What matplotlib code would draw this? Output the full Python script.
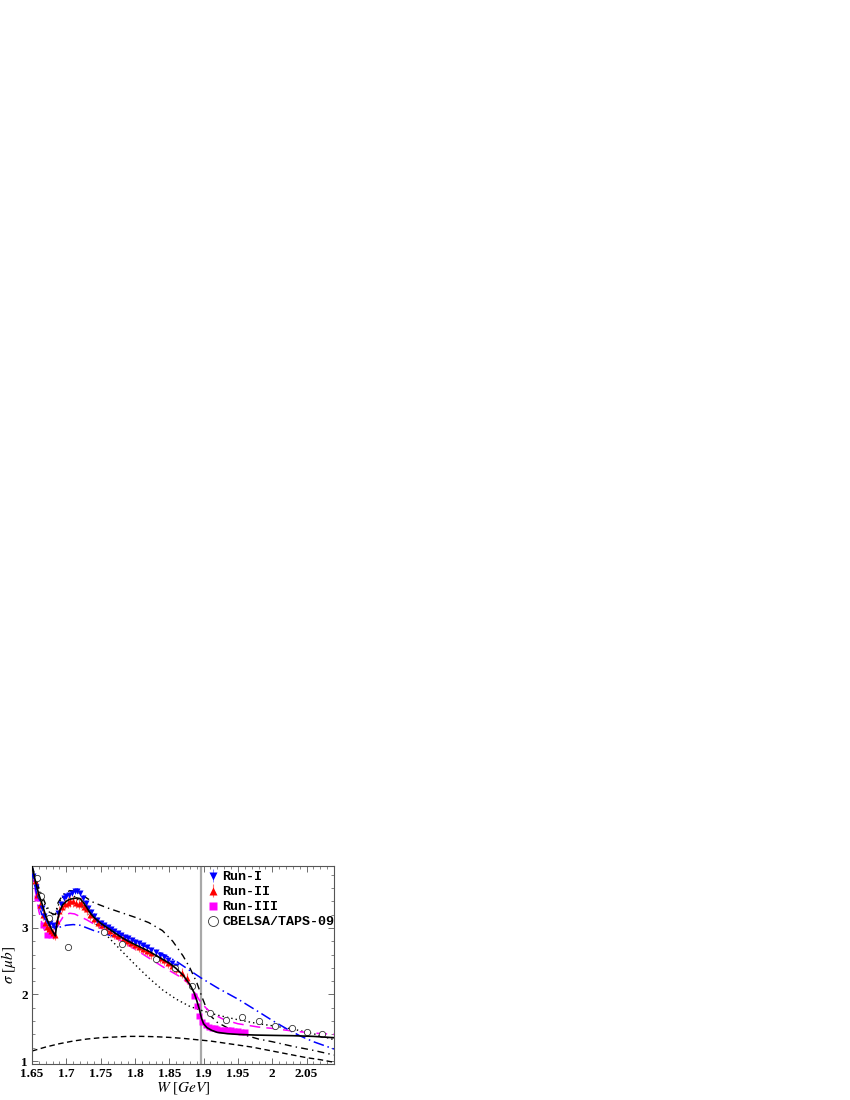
import matplotlib
matplotlib.use("Agg")
import matplotlib.pyplot as plt
from matplotlib.ticker import MultipleLocator

# theory curves (W in GeV, sigma in mub)
solid_w = [1.650, 1.655, 1.660, 1.665, 1.670, 1.675, 1.680, 1.684, 1.686, 1.690, 1.695, 1.700, 1.705, 1.710,
           1.715, 1.720, 1.725, 1.730, 1.735, 1.740, 1.750, 1.760, 1.770, 1.780, 1.790, 1.800, 1.810, 1.820,
           1.830, 1.840, 1.850, 1.860, 1.870, 1.880, 1.886, 1.890, 1.894, 1.897, 1.900, 1.905, 1.912, 1.920,
           1.935, 1.950, 1.975, 2.000, 2.030, 2.060, 2.090]
solid_s = [3.93, 3.70, 3.50, 3.35, 3.18, 3.05, 2.95, 2.88, 3.05, 3.25, 3.35, 3.40, 3.43, 3.44,
           3.45, 3.44, 3.38, 3.30, 3.22, 3.16, 3.07, 3.00, 2.93, 2.86, 2.80, 2.75, 2.70, 2.65,
           2.59, 2.53, 2.47, 2.39, 2.29, 2.15, 2.03, 1.91, 1.77, 1.64, 1.56, 1.50, 1.46, 1.43,
           1.41, 1.40, 1.39, 1.385, 1.38, 1.37, 1.35]

blue_w = [1.650, 1.655, 1.660, 1.665, 1.670, 1.675, 1.680, 1.685, 1.690, 1.700, 1.710, 1.720, 1.730, 1.740,
          1.750, 1.760, 1.780, 1.800, 1.820, 1.840, 1.860, 1.880, 1.896, 1.920, 1.950, 1.980, 2.000, 2.020,
          2.040, 2.060, 2.090]
blue_s = [3.93, 3.60, 3.35, 3.18, 3.08, 3.03, 3.01, 3.00, 3.01, 3.04, 3.05, 3.04, 3.00, 2.96,
          2.93, 2.90, 2.84, 2.78, 2.70, 2.61, 2.50, 2.36, 2.25, 2.10, 1.93, 1.74, 1.61, 1.49,
          1.38, 1.29, 1.18]

mag_w = [1.650, 1.655, 1.660, 1.665, 1.670, 1.674, 1.678, 1.682, 1.686, 1.690, 1.695, 1.700, 1.705, 1.712,
         1.720, 1.730, 1.740, 1.750, 1.760, 1.780, 1.800, 1.820, 1.840, 1.860, 1.870, 1.880, 1.890, 1.896,
         1.905, 1.915, 1.930, 1.950, 1.980, 2.000, 2.030, 2.060, 2.090]
mag_s = [3.85, 3.55, 3.25, 3.05, 2.92, 2.86, 2.86, 2.90, 2.98, 3.08, 3.16, 3.20, 3.22, 3.21,
         3.17, 3.12, 3.06, 3.00, 2.93, 2.80, 2.68, 2.55, 2.42, 2.30, 2.24, 2.14, 1.98, 1.88,
         1.78, 1.70, 1.62, 1.56, 1.51, 1.49, 1.45, 1.42, 1.40]

dot_w = [1.650, 1.655, 1.660, 1.665, 1.670, 1.675, 1.680, 1.684, 1.688, 1.693, 1.700, 1.708, 1.715, 1.725,
         1.735, 1.750, 1.765, 1.780, 1.800, 1.820, 1.840, 1.860, 1.880, 1.900, 1.920, 1.950, 1.980, 2.000,
         2.030, 2.060, 2.090]
dot_s = [3.93, 3.75, 3.58, 3.42, 3.32, 3.24, 3.20, 3.19, 3.33, 3.45, 3.50, 3.50, 3.45, 3.30,
         3.15, 2.98, 2.82, 2.66, 2.45, 2.25, 2.07, 1.93, 1.82, 1.75, 1.69, 1.62, 1.56, 1.53,
         1.48, 1.41, 1.32]

dd_w = [1.650, 1.660, 1.670, 1.678, 1.684, 1.688, 1.695, 1.705, 1.715, 1.725, 1.740, 1.760, 1.780, 1.800,
        1.820, 1.840, 1.855, 1.870, 1.880, 1.890, 1.897, 1.903, 1.910, 1.920, 1.940, 1.960, 1.980, 2.000,
        2.030, 2.060, 2.090]
dd_s = [3.93, 3.60, 3.35, 3.22, 3.20, 3.38, 3.50, 3.56, 3.55, 3.48, 3.38, 3.30, 3.23, 3.16,
        3.08, 2.96, 2.80, 2.58, 2.40, 2.18, 1.98, 1.82, 1.68, 1.58, 1.47, 1.39, 1.33, 1.29,
        1.22, 1.16, 1.09]

dash_w = [1.650, 1.670, 1.690, 1.710, 1.730, 1.750, 1.770, 1.790, 1.810, 1.830, 1.850, 1.870, 1.890, 1.910,
          1.930, 1.950, 1.970, 1.990, 2.010, 2.030, 2.050, 2.070, 2.090]
dash_s = [1.15, 1.21, 1.26, 1.30, 1.33, 1.35, 1.36, 1.37, 1.37, 1.365, 1.355, 1.34, 1.32, 1.30,
          1.27, 1.24, 1.21, 1.17, 1.13, 1.09, 1.05, 1.02, 0.98]

# data
run1_w = [1.652, 1.656, 1.660, 1.664, 1.668, 1.672, 1.676, 1.680, 1.684, 1.688, 1.692, 1.696, 1.700, 1.704,
          1.708, 1.712, 1.716, 1.720, 1.724, 1.728, 1.732, 1.736, 1.740, 1.745, 1.750, 1.755, 1.760, 1.765,
          1.770, 1.775, 1.780, 1.785, 1.790, 1.795, 1.800, 1.806, 1.812, 1.818, 1.824, 1.830, 1.836, 1.842,
          1.848, 1.854, 1.860]
run1_s = [3.78, 3.62, 3.45, 3.30, 3.18, 3.10, 3.07, 3.04, 3.00, 3.22, 3.36, 3.45, 3.48, 3.50,
          3.52, 3.55, 3.56, 3.52, 3.45, 3.38, 3.30, 3.24, 3.18, 3.12, 3.08, 3.04, 3.01, 2.98,
          2.95, 2.92, 2.89, 2.87, 2.85, 2.82, 2.79, 2.77, 2.74, 2.71, 2.67, 2.64, 2.60, 2.56,
          2.52, 2.47, 2.42]

run2_w = [1.654, 1.658, 1.662, 1.666, 1.669, 1.672, 1.675, 1.678, 1.681, 1.684, 1.687, 1.690, 1.694, 1.698,
          1.702, 1.706, 1.710, 1.714, 1.718, 1.722, 1.726, 1.730, 1.735, 1.740, 1.746, 1.752, 1.758, 1.764,
          1.770, 1.776, 1.782, 1.788, 1.794, 1.800, 1.806, 1.812, 1.818, 1.824, 1.830, 1.836, 1.842, 1.848,
          1.854, 1.860, 1.868, 1.876]
run2_s = [3.70, 3.50, 3.35, 3.20, 3.08, 3.02, 2.98, 2.95, 2.92, 2.90, 3.10, 3.25, 3.32, 3.36,
          3.38, 3.40, 3.40, 3.38, 3.36, 3.38, 3.32, 3.28, 3.20, 3.14, 3.08, 3.04, 2.99, 2.95,
          2.91, 2.88, 2.84, 2.81, 2.78, 2.75, 2.72, 2.69, 2.66, 2.62, 2.58, 2.55, 2.52, 2.48,
          2.43, 2.38, 2.32, 2.24]

run3_w = [1.658, 1.666, 1.672, 1.678, 1.886, 1.890, 1.894, 1.898, 1.903, 1.908, 1.912,
          1.916, 1.920, 1.925, 1.930, 1.935, 1.940, 1.945, 1.950, 1.955, 1.960]
run3_s = [3.45, 3.05, 2.90, 2.90, 1.97, 1.82, 1.68, 1.58, 1.54, 1.51, 1.50,
          1.49, 1.48, 1.47, 1.47, 1.46, 1.46, 1.45, 1.45, 1.44, 1.44]

cb_w = [1.657, 1.663, 1.675, 1.702, 1.755, 1.781, 1.831, 1.858, 1.883, 1.909, 1.933, 1.956, 1.981, 2.004,
        2.029, 2.051, 2.073]
cb_s = [3.75, 3.48, 3.15, 2.71, 2.94, 2.76, 2.53, 2.40, 2.12, 1.72, 1.62, 1.66, 1.60, 1.53,
        1.50, 1.44, 1.40]

threshold = 1.896

plt.rcParams['font.family'] = 'Liberation Serif'
plt.rcParams['mathtext.fontset'] = 'stix'

fig = plt.figure(figsize=(8.5, 11), dpi=100)
ax = fig.add_axes([32 / 850, 36 / 1100, 302 / 850, 198 / 1100])

ax.axvline(threshold, color='#a8a8a8', lw=1.6, zorder=1)

# data points
ax.errorbar(run2_w, run2_s, yerr=0.08, fmt='^', color='red', ms=4, mec='none',
            ecolor='#ff7070', elinewidth=0.8, capsize=0, zorder=3, label='Run-II')
ax.errorbar(run1_w, run1_s, yerr=0.04, fmt='v', color='blue', ms=4, mec='none',
            ecolor='#7070ff', elinewidth=0.6, capsize=0, zorder=3, label='Run-I')
ax.plot(run3_w, run3_s, 's', color='magenta', ms=4, mec='none', zorder=3, label='Run-III')
ax.plot(cb_w, cb_s, 'o', mfc='white', mec='#333333', mew=0.6, ms=4.5, zorder=4,
        label='CBELSA/TAPS-09')

# curves
ax.plot(dash_w, dash_s, color='black', lw=1.0, ls=(0, (4, 2.5)), zorder=2)
ax.plot(dot_w, dot_s, color='black', lw=1.0, ls=(0, (1, 2.2)), zorder=2)
ax.plot(dd_w, dd_s, color='black', lw=1.0, ls=(0, (5, 3, 1, 3)), zorder=2)
ax.plot(mag_w, mag_s, color='magenta', lw=1.1, ls=(0, (7, 4)), zorder=2)
ax.plot(blue_w, blue_s, color='blue', lw=1.1, ls=(0, (7, 2.5, 1, 2.5)), zorder=2)
ax.plot(solid_w, solid_s, color='black', lw=1.2, zorder=5)

ax.set_xlim(1.65, 2.09)
ax.set_ylim(0.955, 3.93)
ax.xaxis.set_minor_locator(MultipleLocator(0.01))
ax.yaxis.set_minor_locator(MultipleLocator(0.2))
ax.set_xticks([1.65, 1.7, 1.75, 1.8, 1.85, 1.9, 1.95, 2.0, 2.05])
ax.set_xticklabels(['1.65', '1.7', '1.75', '1.8', '1.85', '1.9', '1.95', '2', '2.05'])
ax.set_yticks([1, 2, 3])
ax.set_yticklabels(['1', '2', '3'])
ax.tick_params(which='both', direction='in', top=True, right=True, color='#555555')
ax.tick_params(which='major', length=4, width=0.6, labelsize=9.5, pad=3)
ax.tick_params(which='minor', length=2, width=0.5)
for lab in ax.get_xticklabels() + ax.get_yticklabels():
    lab.set_fontweight('bold')
for s in ax.spines.values():
    s.set_color('#555555')
    s.set_linewidth(0.8)

ax.set_xlabel(r'$\mathit{W}$ [$\mathit{GeV}$]', fontsize=11, labelpad=0)
ax.set_ylabel(r'$\sigma$ [$\mu\mathit{b}$]', fontsize=11, labelpad=2)

handles, labels = ax.get_legend_handles_labels()
order = [labels.index(n) for n in ['Run-I', 'Run-II', 'Run-III', 'CBELSA/TAPS-09']]
leg = ax.legend([handles[i] for i in order], [labels[i] for i in order],
                loc='upper left', bbox_to_anchor=(0.585, 0.975), frameon=False,
                prop={'family': 'Liberation Mono', 'weight': 'bold', 'size': 9.6},
                handlelength=0.7, handletextpad=0.3, labelspacing=0.2, borderpad=0,
                borderaxespad=0, markerscale=1.6)

fig.savefig('out.png', dpi=100)
